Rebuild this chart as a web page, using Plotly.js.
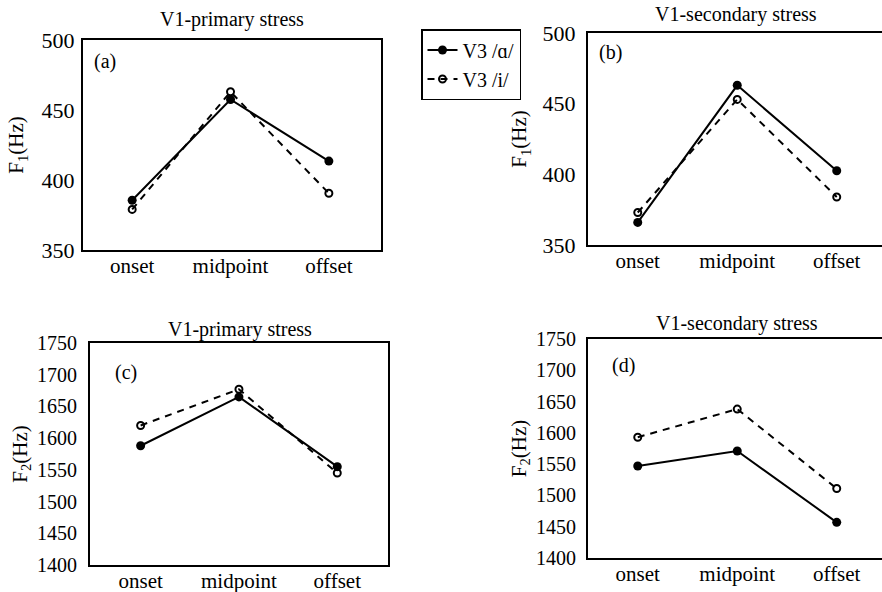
<!DOCTYPE html>
<html><head><meta charset="utf-8">
<script src="https://cdn.plot.ly/plotly-3.0.1.min.js"></script>
<style>html,body{margin:0;padding:0;background:#fff}#chart{width:882px;height:592px}</style>
</head><body><div id="chart"></div>
<script>
const categories = ["onset", "midpoint", "offset"];
const seriesNames = ["V3 /ɑ/", "V3 /i/"];
// F1, V1-primary stress (a)
const a_alpha = [385.5, 457.5, 413.5];
const a_i     = [379, 463, 390.5];
// F1, V1-secondary stress (b)
const b_alpha = [366, 463, 402.5];
const b_i     = [373, 453, 384];
// F2, V1-primary stress (c)
const c_alpha = [1588, 1665, 1555];
const c_i     = [1620, 1677, 1545];
// F2, V1-secondary stress (d)
const d_alpha = [1547, 1571, 1457];
const d_i     = [1593, 1638, 1511];
const f1Ticks = [350, 400, 450, 500];
const f2Ticks = [1400, 1450, 1500, 1550, 1600, 1650, 1700, 1750];
const titles = ["V1-primary stress", "V1-secondary stress", "V1-primary stress", "V1-secondary stress"];
const panelLabels = ["(a)", "(b)", "(c)", "(d)"];

const W = 882, H = 592;
const FONT = "Liberation Serif, Times New Roman, serif";
const px = v => v / W, py = v => 1 - v / H;

const panels = [
  {alpha: a_alpha, i: a_i, ticks: f1Ticks, yr: [350, 500], ytitle: "F<sub>1</sub>(Hz)",
   L: 83, R: 381, T: 40, B: 250, xr: [-0.5, 2.53], mirrorY: true, lab: [92, 61], tt: [232, 20],
   ygap: 2, ystand: 12, tsz: 22},
  {alpha: b_alpha, i: b_i, ticks: f1Ticks, yr: [350, 500], ytitle: "F<sub>1</sub>(Hz)",
   L: 588, R: 882, T: 33, B: 245, xr: [-0.5, 2.455], mirrorY: false, lab: [597, 53], tt: [736, 14],
   ygap: 6, ystand: 10, tsz: 22},
  {alpha: c_alpha, i: c_i, ticks: f2Ticks, yr: [1400, 1750], ytitle: "F<sub>2</sub>(Hz)",
   L: 90, R: 388, T: 343, B: 565, xr: [-0.515, 2.516], mirrorY: true, lab: [113, 372], tt: [240, 329],
   ygap: 7, ystand: 4, tsz: 20},
  {alpha: d_alpha, i: d_i, ticks: f2Ticks, yr: [1400, 1750], ytitle: "F<sub>2</sub>(Hz)",
   L: 588, R: 882, T: 339, B: 558, xr: [-0.5, 2.455], mirrorY: false, lab: [610, 365], tt: [737, 323],
   ygap: 6, ystand: 4, tsz: 20}
];

const data = [];
const layout = {
  width: W, height: H,
  margin: {l: 0, r: 0, t: 0, b: 0},
  paper_bgcolor: "#fff", plot_bgcolor: "#fff",
  font: {family: FONT, color: "#000", size: 18},
  showlegend: true,
  legend: {x: px(421), y: py(29), xanchor: "left", yanchor: "top",
           bordercolor: "#000", borderwidth: 1.5, bgcolor: "#fff",
           font: {family: FONT, size: 20, color: "#000"},
           tracegroupgap: 0, itemwidth: 30},
  annotations: [],
  shapes: []
};

panels.forEach((p, k) => {
  const n = k === 0 ? "" : String(k + 1);
  const xa = "x" + n, ya = "y" + n;
  data.push({
    x: categories, y: p.alpha, xaxis: xa, yaxis: ya, type: "scatter", mode: "lines+markers",
    name: seriesNames[0], legendgroup: "alpha", showlegend: k === 0,
    line: {color: "#000", width: 2},
    marker: {symbol: "circle", size: 9, color: "#000"}
  });
  data.push({
    x: categories, y: p.i, xaxis: xa, yaxis: ya, type: "scatter", mode: "lines+markers",
    name: seriesNames[1], legendgroup: "i", showlegend: k === 0,
    line: {color: "#000", width: 2, dash: "7px,6px"},
    marker: {symbol: "circle-open", size: 7, color: "#000", line: {width: 2, color: "#000"}}
  });
  layout["xaxis" + n] = {
    domain: [px(p.L), px(p.R)], anchor: ya, type: "category", range: p.xr,
    showline: true, linecolor: "#000", linewidth: 2, mirror: true,
    showgrid: false, zeroline: false, ticks: "", ticklabelstandoff: -4,
    tickfont: {family: FONT, size: 21, color: "#000"}, fixedrange: true
  };
  layout["yaxis" + n] = {
    domain: [py(p.B), py(p.T)], anchor: xa, range: p.yr,
    tickmode: "array", tickvals: p.ticks, ticktext: p.ticks.map(String),
    showline: true, linecolor: "#000", linewidth: 2, mirror: p.mirrorY,
    showgrid: false, zeroline: false, ticks: "", ticklabelstandoff: p.ygap,
    tickfont: {family: FONT, size: p.tsz, color: "#000"},
    title: {text: p.ytitle, font: {family: FONT, size: 21, color: "#000"}, standoff: p.ystand},
    fixedrange: true
  };
  layout.annotations.push({
    text: titles[k], xref: "paper", yref: "paper", x: px(p.tt[0]), y: py(p.tt[1]),
    xanchor: "center", yanchor: "middle", showarrow: false,
    font: {family: FONT, size: 20, color: "#000"}
  });
  layout.annotations.push({
    text: panelLabels[k], xref: "paper", yref: "paper", x: px(p.lab[0]), y: py(p.lab[1]),
    xanchor: "left", yanchor: "middle", showarrow: false,
    font: {family: FONT, size: 20, color: "#000"}
  });
});

Plotly.newPlot("chart", data, layout, {displayModeBar: false, staticPlot: true});
</script></body></html>
